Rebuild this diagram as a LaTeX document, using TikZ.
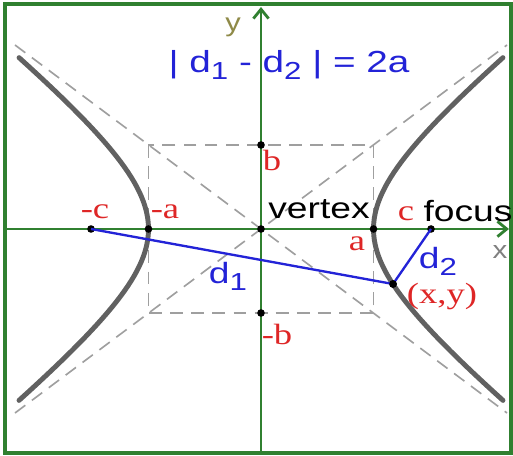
\documentclass[tikz,border=0pt]{standalone}
\usepackage{fontspec}
\setmainfont{Liberation Serif}
\setsansfont{Liberation Sans}
\usetikzlibrary{arrows.meta}
\definecolor{axisgreen}{RGB}{48,128,48}
\definecolor{distblue}{RGB}{35,35,215}
\definecolor{lblred}{RGB}{222,38,38}
\newcommand{\dsub}[1]{\raisebox{-6pt}{\fontsize{21}{22}\selectfont #1}}

\begin{document}
\begin{tikzpicture}[x=0.03cm, y=0.03cm, >={Straight Barb[length=8pt,width=13pt]},
  axis/.style={axisgreen, line width=2.4pt},
  asym/.style={gray!75, dash pattern=on 11pt off 7pt, line width=1.4pt},
  branch/.style={black!62, line width=4.2pt, line cap=round},
  dist/.style={distblue, line width=2pt},
  pt/.style={circle, fill=black, inner sep=0pt, minimum size=6.5pt},
  redlbl/.style={lblred, font=\fontsize{25}{27}\selectfont, xscale=1.25, inner sep=0pt},
  wordlbl/.style={black, font=\sffamily\fontsize{25}{27}\selectfont, xscale=1.27, inner sep=0pt},
  bluelbl/.style={distblue, font=\sffamily\fontsize{25}{27}\selectfont, xscale=1.27, inner sep=0pt}]
  \useasboundingbox (-261,229) rectangle (252,-227);
  % Marco
  \draw[axisgreen, line width=2.6pt] (-256,225) rectangle (250,-224);
  % Rectangulo y asintotas
  \draw[asym] (-112.5,84) rectangle (112.5,-84);
  \draw[asym] (-246,184) -- (246,-184);
  \draw[asym] (-246,-184) -- (246,184);
  % Ejes
  \draw[axis, ->] (-256,0) -- (248,0);
  \draw[axis, ->] (0,-224) -- (0,222);
  \node[gray, font=\sffamily\fontsize{21}{23}\selectfont, xscale=1.2] (xlbl) at (239,-23) {x};
  \node[olive!50!gray, font=\sffamily\fontsize{22}{24}\selectfont, xscale=1.2] (ylbl) at (-28,202) {y};
  % Ramas de la hiperbola
  \draw[branch] plot[domain=-1.4:1.4, variable=\t, samples=60] ({112.5*cosh(\t)},{90*sinh(\t)});
  \draw[branch] plot[domain=-1.4:1.4, variable=\t, samples=60] ({-112.5*cosh(\t)},{90*sinh(\t)});
  % Puntos
  \node[pt] (O) at (0,0) {};
  \node[pt] (B1) at (0,84) {};
  \node[pt] (B2) at (0,-84) {};
  \node[pt] (V1) at (-112.5,0) {};
  \node[pt] (V2) at (112.5,0) {};
  \node[pt] (F1) at (-170,0) {};
  \node[pt] (F2) at (170,0) {};
  \node[pt] (P) at (132,-55) {};
  % Distancias a los focos
  \draw[dist] (F1.center) -- (P.center) -- (F2.center);
  \node[pt] at (P) {};
  % Etiquetas
  \node[bluelbl, font=\sffamily\fontsize{26}{28}\selectfont] (law) at (28,164) {| d\dsub{1} - d\dsub{2} | = 2a};
  \node[bluelbl] (d1) at (-33,-47) {d\dsub{1}};
  \node[bluelbl] (d2) at (177,-32) {d\dsub{2}};
  \node[redlbl] (lb) at (11,69) {b};
  \node[redlbl] (lnb) at (16,-105) {-b};
  \node[redlbl] (lnc) at (-166,17) {-c};
  \node[redlbl] (lna) at (-96,17) {-a};
  \node[redlbl] (la) at (96,-15) {a};
  \node[redlbl] (lc) at (145,15) {c};
  \node[redlbl] (lxy) at (181,-67) {(x,y)};
  \node[wordlbl] (vtx) at (58,20) {vertex};
  \node[wordlbl] (foc) at (207,18) {focus};
\end{tikzpicture}
\end{document}
